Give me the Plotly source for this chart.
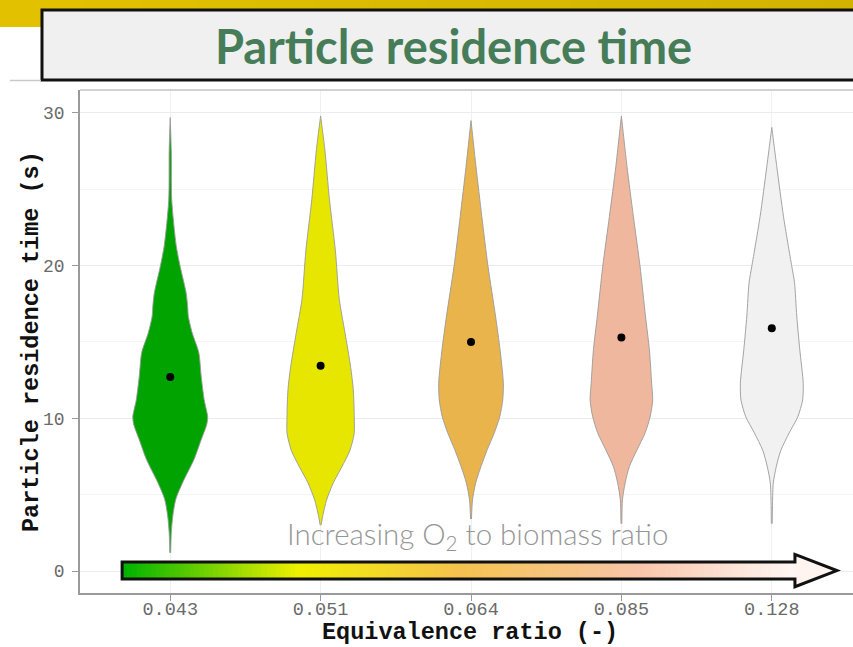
import plotly.graph_objects as go
from plotly.colors import sample_colorscale

# Equivalence ratios (x categories) and per-case styling
ratios = ["0.043", "0.051", "0.064", "0.085", "0.128"]
fill_colors = ["#00a300", "#e6e600", "#e9b44c", "#efb89e", "#f1f1f1"]
mean_times = [12.7, 13.45, 15.0, 15.3, 15.9]

# Violin profiles: residence time levels (s) and half-width of the density (category units)
v043_t = [1.2, 2.5, 3.6, 4.7, 5.8, 7.3, 8.6, 9.6, 10.1, 11.2, 12.75, 14.3, 15.6, 16.7, 17.3, 18.2, 19.95, 21.3, 24.3, 27.5, 29.7]
v043_w = [0.003, 0.007, 0.017, 0.037, 0.083, 0.158, 0.206, 0.243, 0.249, 0.226, 0.206, 0.190, 0.146, 0.120, 0.116, 0.106, 0.066, 0.040, 0.010, 0.007, 0.0]

v051_t = [3.0, 3.56, 4.66, 5.77, 6.8, 7.9, 9.0, 10.0, 11.9, 13.4, 15.6, 17.8, 21.0, 24.3, 27.6, 29.8]
v051_w = [0.003, 0.013, 0.040, 0.084, 0.140, 0.195, 0.223, 0.224, 0.217, 0.199, 0.162, 0.124, 0.098, 0.059, 0.028, 0.0]

v064_t = [3.4, 4.66, 5.77, 6.84, 7.9, 9.05, 10.1, 11.2, 12.3, 14.5, 16.7, 19.95, 23.2, 26.5, 29.5]
v064_w = [0.003, 0.010, 0.031, 0.066, 0.106, 0.155, 0.191, 0.211, 0.215, 0.193, 0.163, 0.113, 0.072, 0.033, 0.0]

v085_t = [3.1, 4.66, 5.77, 6.84, 7.9, 9.05, 10.1, 11.2, 12.3, 14.5, 16.7, 19.95, 23.2, 26.5, 29.8]
v085_w = [0.003, 0.007, 0.025, 0.053, 0.102, 0.158, 0.191, 0.208, 0.201, 0.186, 0.160, 0.124, 0.080, 0.037, 0.0]

v128_t = [3.1, 4.5, 5.77, 6.84, 7.9, 9.05, 10.1, 11.2, 12.3, 14.5, 16.7, 18.9, 19.95, 23.2, 26.5, 29.05]
v128_w = [0.003, 0.005, 0.010, 0.030, 0.060, 0.116, 0.173, 0.205, 0.209, 0.186, 0.166, 0.151, 0.133, 0.078, 0.033, 0.0]

profiles = [(v043_t, v043_w), (v051_t, v051_w), (v064_t, v064_w),
            (v085_t, v085_w), (v128_t, v128_w)]

# Plot-area geometry (pixels)
W, H = 853, 647
L, R, T, B = 80, 0, 90, 54
PW, PH = W - L - R, H - T - B


def px(xp):
    return (xp - L) / PW


def py(yp):
    return (H - B - yp) / PH


fig = go.Figure()

# Violins drawn from their density profiles
for i, (t, w) in enumerate(profiles):
    xs = [i + v for v in w] + [i - v for v in reversed(w)]
    ys = list(t) + list(reversed(t))
    fig.add_trace(go.Scatter(
        x=xs, y=ys, mode="lines", fill="toself", fillcolor=fill_colors[i],
        line=dict(color="#9a9a9a", width=0.9, shape="spline", smoothing=0.7),
        hoverinfo="skip", showlegend=False))

# Mean markers
fig.add_trace(go.Scatter(
    x=list(range(len(ratios))), y=mean_times, mode="markers",
    marker=dict(color="black", size=8), showlegend=False))

shapes = []

# Gold header band
band = sample_colorscale([[0, "#e2c200"], [1, "#d2b300"]], [k / 29 for k in range(30)])
for k, c in enumerate(band):
    shapes.append(dict(type="rect", xref="paper", yref="paper",
                       x0=px(k * W / 30), x1=px((k + 1) * W / 30 + 1),
                       y0=py(27), y1=py(0), fillcolor=c, line=dict(width=0), layer="above"))
# Title box
shapes.append(dict(type="rect", xref="paper", yref="paper",
                   x0=px(42), x1=px(880), y0=py(80), y1=py(10),
                   fillcolor="#f0f0f0", line=dict(color="#111111", width=3)))
shapes.append(dict(type="line", xref="paper", yref="paper",
                   x0=px(10), x1=px(41), y0=py(80.5), y1=py(80.5),
                   line=dict(color="#c8c8c8", width=1.5)))
# Panel top border
shapes.append(dict(type="line", xref="paper", yref="paper",
                   x0=0, x1=1, y0=1, y1=1, line=dict(color="#d2d2d2", width=2)))

# Gradient arrow along the bottom of the panel
x_start, x_neck, x_tip = -0.32, 4.154, 4.433
yc, half_shaft, half_head = 0.03, 0.56, 1.06
n = 140
grad = sample_colorscale(
    [[0, "#00b400"], [0.26, "#f0f000"], [0.5, "#f5c24e"], [0.77, "#f8c6aa"], [1, "#fff6f3"]],
    [k / (n - 1) for k in range(n)])
step = (x_neck - x_start) / n
for k, c in enumerate(grad):
    shapes.append(dict(type="rect", xref="x", yref="y",
                       x0=x_start + k * step, x1=x_start + (k + 1.6) * step if k < n - 1 else x_neck,
                       y0=yc - half_shaft, y1=yc + half_shaft,
                       fillcolor=c, line=dict(width=0), layer="above"))
shapes.append(dict(type="path", xref="x", yref="y",
                   path=f"M {x_neck-0.01},{yc+half_head} L {x_tip},{yc} L {x_neck-0.01},{yc-half_head} Z",
                   fillcolor="#fff4f0", line=dict(width=0), layer="above"))
arrow_path = (f"M {x_start},{yc-half_shaft} L {x_neck},{yc-half_shaft} L {x_neck},{yc-half_head} "
              f"L {x_tip},{yc} L {x_neck},{yc+half_head} L {x_neck},{yc+half_shaft} "
              f"L {x_start},{yc+half_shaft} Z")
shapes.append(dict(type="path", xref="x", yref="y", path=arrow_path,
                   line=dict(color="#111111", width=3), layer="above"))

axis_title_font = dict(family="Liberation Mono", size=23.5, color="#111111")
annotations = [
    dict(text="<b>Particle residence time</b>", xref="paper", yref="paper",
         x=px(453), y=py(46), xanchor="center", yanchor="middle", showarrow=False,
         font=dict(family="Lato", size=47, color="#467d58")),
    dict(text="Increasing O<sub>2</sub> to biomass ratio", xref="x", yref="y",
         x=2.04, y=2.35, xanchor="center", yanchor="middle", showarrow=False,
         font=dict(family="Lato", size=29.5, color="#969696", weight=300)),
    # Axis titles
    dict(text="<b>Equivalence ratio (-)</b>", xref="paper", yref="paper",
         x=px(470), y=py(647), xanchor="center", yanchor="bottom", showarrow=False,
         borderpad=0, font=axis_title_font),
    dict(text="<b>Particle residence time (s)</b>", xref="paper", yref="paper",
         x=px(31), y=py(342), xanchor="center", yanchor="middle", showarrow=False,
         textangle=-90, font=axis_title_font),
]

fig.update_layout(
    width=W, height=H,
    margin=dict(l=L, r=R, t=T, b=B, pad=0),
    paper_bgcolor="white", plot_bgcolor="white",
    shapes=shapes, annotations=annotations, showlegend=False,
    xaxis=dict(
        range=[-0.6, 4.54], tickmode="array", tickvals=list(range(len(ratios))), ticktext=ratios,
        showgrid=True, gridcolor="#f0f0f0", gridwidth=1, zeroline=False,
        showline=True, linecolor="#9a9a9a", linewidth=1.5,
        ticks="outside", ticklen=6, tickcolor="#9a9a9a", tickwidth=1.2,
        ticklabelstandoff=-8,
        tickfont=dict(family="Liberation Mono", size=18.5, color="#6a6a6a"),
        automargin=False, fixedrange=True),
    yaxis=dict(
        range=[-1.44, 31.5], tickmode="array", tickvals=[0, 10, 20, 30],
        showgrid=True, gridcolor="#ececec", gridwidth=1, zeroline=False,
        minor=dict(tickvals=[5, 15, 25], showgrid=True, gridcolor="#f5f5f5", gridwidth=1),
        showline=True, linecolor="#9a9a9a", linewidth=1.5,
        ticks="outside", ticklen=6, tickcolor="#9a9a9a", tickwidth=1.2,
        ticklabelstandoff=4,
        tickfont=dict(family="Liberation Mono", size=18, color="#6a6a6a"),
        automargin=False, fixedrange=True),
)

fig.write_html("out.html")
